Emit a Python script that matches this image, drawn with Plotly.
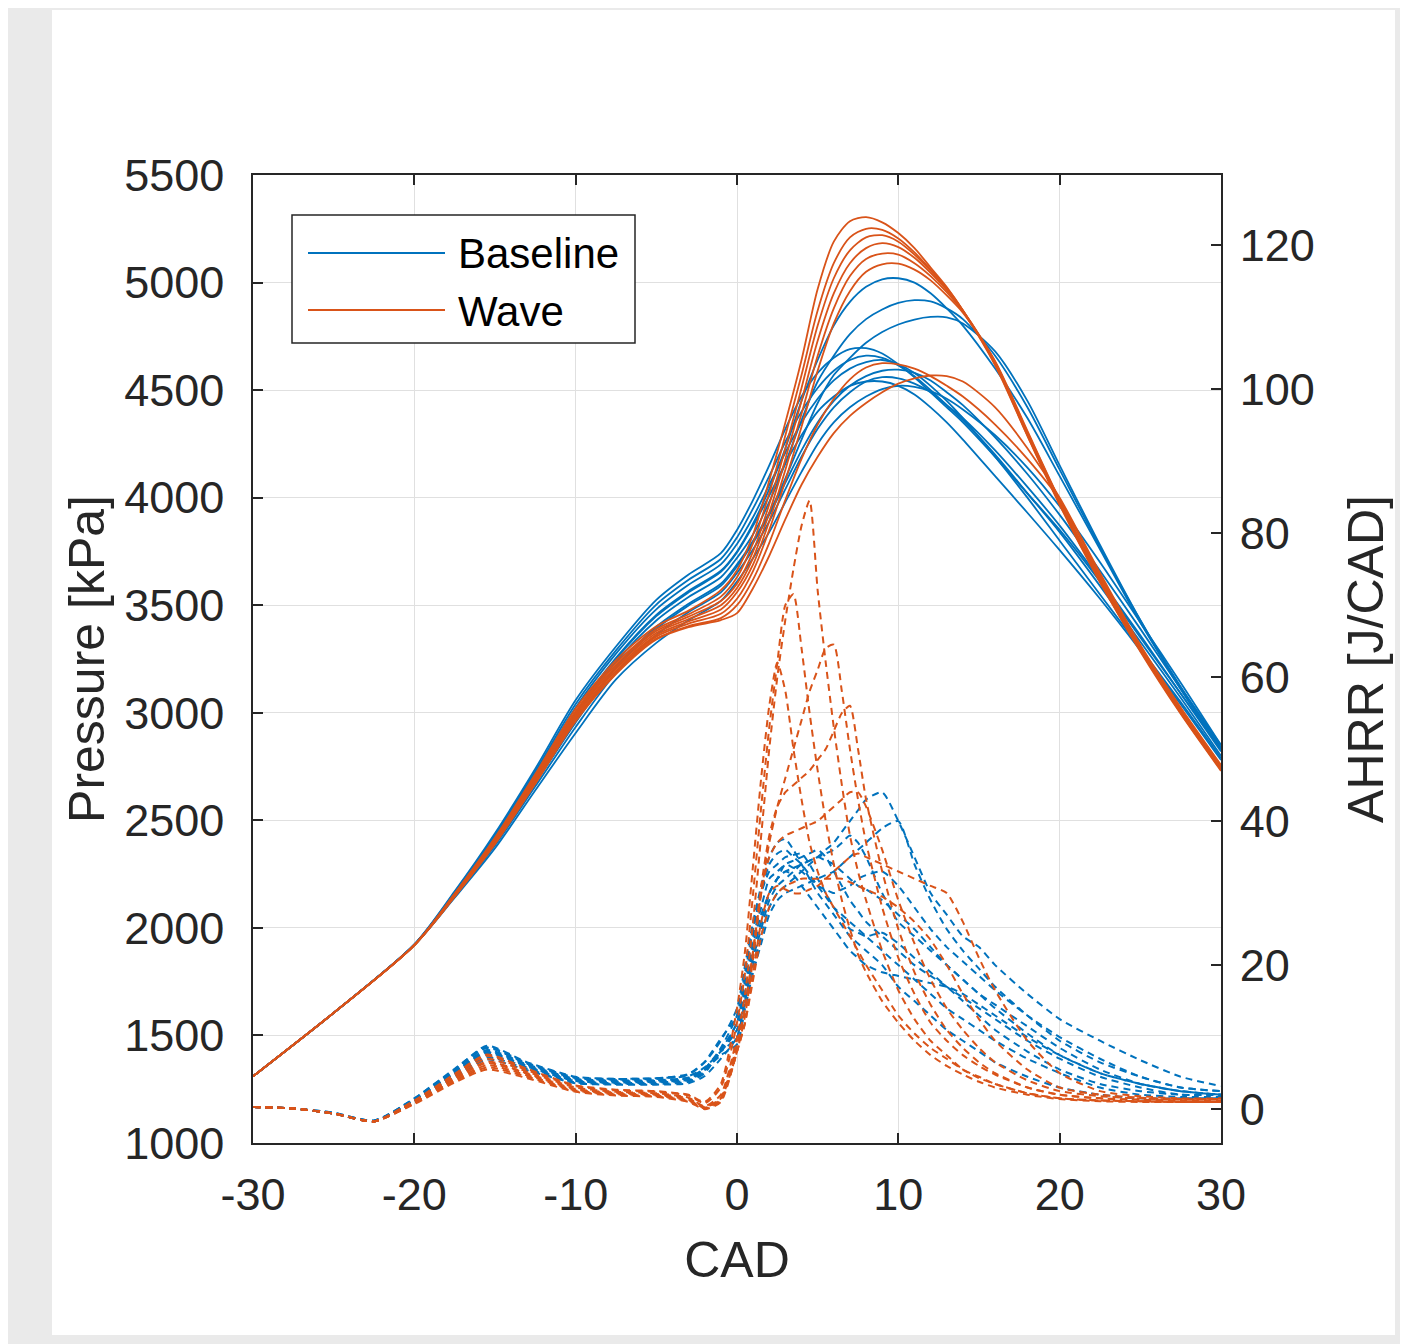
import plotly.graph_objects as go

# ---------------- data ----------------
cad_p = [-30, -25, -20, -17.5, -15, -12.5, -10, -7.5, -5, -3, -1, 0, 1, 2, 3, 4, 5, 6, 7, 8,
         9, 10, 11, 12, 13, 14, 16, 18, 20, 22.5, 25, 27.5, 30]

p_baseline_1 = [1310, 1605, 1922, 2159, 2414, 2703, 3002, 3255, 3455, 3566, 3660, 3750, 3880, 4040, 4230, 4450, 4640, 4800, 4910, 4980, 5015, 5020, 5000, 4950, 4880, 4800, 4600, 4370, 4100, 3760, 3420, 3120, 2850]
p_baseline_2 = [1310, 1605, 1921, 2155, 2405, 2690, 2983, 3236, 3429, 3538, 3630, 3720, 3830, 3980, 4160, 4360, 4540, 4660, 4760, 4830, 4875, 4905, 4918, 4912, 4880, 4830, 4660, 4420, 4130, 3770, 3430, 3120, 2840]
p_baseline_3 = [1310, 1605, 1921, 2151, 2395, 2676, 2961, 3215, 3400, 3507, 3600, 3690, 3800, 3930, 4090, 4270, 4440, 4570, 4650, 4720, 4770, 4805, 4828, 4840, 4838, 4810, 4680, 4450, 4150, 3780, 3430, 3110, 2830]
p_baseline_4 = [1310, 1605, 1923, 2170, 2440, 2740, 3059, 3308, 3525, 3643, 3742, 3850, 3990, 4150, 4320, 4470, 4580, 4650, 4690, 4695, 4670, 4620, 4560, 4490, 4420, 4350, 4190, 4020, 3850, 3610, 3350, 3090, 2830]
p_baseline_5 = [1310, 1605, 1923, 2166, 2432, 2728, 3041, 3290, 3503, 3618, 3715, 3815, 3950, 4100, 4260, 4400, 4510, 4590, 4640, 4660, 4650, 4615, 4565, 4500, 4430, 4360, 4200, 4020, 3840, 3590, 3330, 3070, 2800]
p_baseline_6 = [1310, 1605, 1922, 2163, 2424, 2717, 3024, 3275, 3481, 3595, 3690, 3785, 3910, 4060, 4210, 4350, 4460, 4545, 4600, 4630, 4640, 4620, 4580, 4520, 4450, 4370, 4190, 4000, 3800, 3550, 3300, 3050, 2790]
p_baseline_7 = [1310, 1605, 1921, 2150, 2392, 2672, 2955, 3208, 3390, 3499, 3590, 3680, 3790, 3920, 4070, 4220, 4350, 4450, 4520, 4565, 4590, 4595, 4580, 4545, 4490, 4430, 4280, 4110, 3920, 3660, 3390, 3110, 2830]
p_baseline_8 = [1310, 1605, 1922, 2158, 2410, 2698, 2995, 3249, 3449, 3560, 3655, 3745, 3870, 4010, 4160, 4290, 4400, 4470, 4520, 4540, 4540, 4520, 4480, 4420, 4350, 4270, 4100, 3930, 3756, 3530, 3290, 3040, 2780]
p_baseline_9 = [1310, 1605, 1920, 2140, 2370, 2640, 2906, 3155, 3325, 3430, 3520, 3610, 3720, 3840, 3980, 4120, 4250, 4350, 4420, 4470, 4505, 4520, 4515, 4495, 4460, 4410, 4290, 4140, 3960, 3700, 3420, 3140, 2850]
p_baseline_10 = [1310, 1605, 1920, 2145, 2383, 2658, 2934, 3185, 3362, 3469, 3560, 3650, 3760, 3890, 4040, 4190, 4320, 4420, 4490, 4540, 4560, 4555, 4530, 4490, 4430, 4370, 4220, 4050, 3870, 3620, 3360, 3090, 2820]

p_wave_1 = [1310, 1605, 1920, 2160, 2420, 2715, 3020, 3245, 3402, 3475, 3570, 3663, 3830, 4080, 4350, 4640, 4970, 5190, 5285, 5304, 5280, 5230, 5160, 5070, 4979, 4870, 4615, 4287, 3966, 3607, 3290, 3000, 2735]
p_wave_2 = [1310, 1605, 1920, 2157, 2413, 2705, 3008, 3232, 3389, 3458, 3540, 3630, 3790, 4020, 4290, 4570, 4870, 5090, 5210, 5250, 5245, 5205, 5140, 5060, 4975, 4870, 4620, 4290, 3970, 3610, 3285, 2995, 2730]
p_wave_3 = [1310, 1605, 1920, 2155, 2409, 2699, 2999, 3223, 3380, 3447, 3520, 3600, 3750, 3970, 4230, 4510, 4800, 5020, 5150, 5210, 5220, 5190, 5130, 5055, 4970, 4870, 4625, 4295, 3975, 3615, 3290, 3000, 2735]
p_wave_4 = [1310, 1605, 1920, 2152, 2405, 2692, 2991, 3213, 3371, 3436, 3500, 3580, 3720, 3930, 4180, 4450, 4730, 4950, 5090, 5160, 5183, 5165, 5115, 5045, 4965, 4870, 4630, 4300, 3980, 3620, 3295, 3005, 2740]
p_wave_5 = [1310, 1605, 1920, 2150, 2400, 2686, 2982, 3204, 3362, 3425, 3480, 3560, 3690, 3890, 4130, 4390, 4660, 4880, 5030, 5110, 5135, 5130, 5090, 5030, 4955, 4865, 4630, 4305, 3985, 3625, 3300, 3010, 2745]
p_wave_6 = [1310, 1605, 1920, 2148, 2396, 2679, 2974, 3195, 3354, 3414, 3460, 3530, 3660, 3850, 4080, 4330, 4590, 4810, 4960, 5050, 5085, 5088, 5060, 5010, 4940, 4860, 4635, 4310, 3990, 3630, 3305, 3015, 2750]
p_wave_7 = [1310, 1605, 1920, 2146, 2392, 2673, 2965, 3185, 3345, 3403, 3440, 3500, 3620, 3790, 3990, 4180, 4340, 4460, 4550, 4605, 4625, 4620, 4600, 4565, 4520, 4470, 4340, 4180, 3990, 3640, 3310, 3020, 2755]
p_wave_8 = [1310, 1605, 1920, 2145, 2390, 2670, 2961, 3180, 3341, 3398, 3431, 3463, 3580, 3730, 3900, 4060, 4190, 4300, 4380, 4440, 4490, 4530, 4555, 4568, 4565, 4540, 4420, 4230, 4000, 3650, 3315, 3025, 2757]

cad_h = [-30, -27.5, -25, -22.5, -20, -17.5, -15.5, -13, -10, -7.5, -5, -3, -2, -1,
         0, 0.5, 1, 1.5, 2, 2.5, 3, 3.5, 4, 4.5, 5, 5.5, 6, 6.5, 7, 7.5, 8,
         9, 10, 11, 12, 13, 14, 15, 16, 18, 20, 22.5, 25, 27.5, 30]

ahrr_baseline_1 = [0.3, 0.1, -0.6, -1.7, 1.5, 5.5, 8.8, 6.5, 4.5, 4.2, 4.3, 4.6, 5.8, 8.0,
                   10, 15, 20, 24, 28, 30, 31, 32, 33, 34, 35, 36, 37, 38.5, 40, 41.5, 43,
                   44, 40, 35, 30, 27, 24, 22.5, 20, 16, 12.5, 9.5, 6.8, 4.5, 3.2]
ahrr_baseline_2 = [0.3, 0.1, -0.6, -1.6, 1.3, 5.2, 8.2, 6.2, 4.2, 4.0, 4.0, 4.3, 5.5, 7.5,
                   9, 14, 19, 23, 27, 29, 30, 30.5, 31, 31.5, 32, 32.5, 33, 34, 35, 36, 37,
                   39, 40, 34, 29, 25, 22, 19.5, 17, 13, 9.5, 6.5, 4.5, 3, 2.5]
ahrr_baseline_3 = [0.3, 0.1, -0.6, -1.7, 1.2, 5.0, 7.8, 6.0, 4.0, 3.8, 3.9, 4.2, 5.6, 8.4,
                   11, 16, 22, 26, 30, 32, 33, 33.5, 34, 34.5, 35, 35.5, 36, 37, 38, 37, 35,
                   30, 26, 24, 22, 20, 18, 16, 14, 10.5, 7.5, 5, 3.5, 2.5, 2]
ahrr_baseline_4 = [0.3, 0.1, -0.5, -1.6, 1.4, 5.4, 8.5, 6.3, 4.3, 4.1, 4.2, 4.8, 6.5, 9.5,
                   14, 20, 26, 31, 35, 37, 37.5, 36, 34, 32, 30, 28.5, 27, 25.5, 24, 23, 22,
                   20, 17, 15, 13, 11, 9.5, 8, 6.5, 4.5, 3, 2, 1.5, 1.5, 1.5]
ahrr_baseline_5 = [0.3, 0.1, -0.6, -1.7, 1.1, 4.8, 7.5, 5.8, 3.9, 3.6, 3.7, 4.0, 5.2, 8.0,
                   12, 18, 24, 28, 32, 33, 34, 34.5, 35, 35.5, 36, 35, 33, 31, 29, 27.5, 26,
                   24, 22, 20, 18.5, 17, 15, 13, 11, 8, 5.5, 3.5, 2.5, 2, 2]
ahrr_baseline_6 = [0.3, 0.1, -0.6, -1.7, 1.0, 4.6, 7.2, 5.6, 3.7, 3.5, 3.5, 3.8, 5.0, 8.5,
                   13, 19, 25, 30, 33, 34, 35, 35.3, 35.5, 34, 32, 30, 28, 26.5, 25, 24.5, 24,
                   24.5, 23, 21, 19, 17, 15.5, 14, 12.5, 9.5, 7, 4.5, 3, 2, 2]
ahrr_baseline_7 = [0.3, 0.1, -0.6, -1.6, 1.2, 5.0, 7.9, 5.9, 3.9, 3.7, 3.8, 4.1, 5.4, 8.2,
                   12, 17, 23, 27, 30, 32, 33, 32.5, 31, 29.5, 28, 26.5, 25, 23.5, 22, 21, 20,
                   19, 18.5, 18, 17.5, 17, 16, 14.5, 13, 10, 7.5, 5, 3.5, 2.5, 2]
ahrr_baseline_8 = [0.3, 0.1, -0.6, -1.7, 0.9, 4.4, 6.9, 5.4, 3.6, 3.4, 3.4, 3.6, 4.6, 7.0,
                   10, 15, 21, 25, 29, 31, 32, 33, 34, 34.5, 35, 34.5, 34, 33, 32, 31, 30.5,
                   29, 27, 25, 22.5, 20, 18, 16, 14.5, 11.5, 8.5, 5.5, 3.5, 2.5, 2]
ahrr_baseline_9 = [0.3, 0.1, -0.6, -1.7, 1.3, 5.1, 8.0, 6.1, 4.1, 3.9, 4.0, 4.4, 5.7, 8.0,
                   11, 16, 22, 26, 30, 32, 34, 33.5, 33, 32, 31, 30.5, 30, 30.5, 31, 32, 32.5,
                   33, 31, 28, 25, 22.5, 20.5, 18.5, 16.5, 13, 10, 7, 4.5, 3, 2.5]
ahrr_baseline_10 = [0.3, 0.1, -0.5, -1.6, 1.5, 5.6, 8.6, 6.4, 4.4, 4.2, 4.3, 4.9, 6.6, 9.8,
                    13, 19, 25, 30, 34, 35.5, 36, 35, 34, 32.5, 31, 29.5, 28, 27, 26, 25, 24,
                    22, 20, 18, 16, 14, 12.5, 11, 9.5, 7, 5, 3, 2, 1.7, 1.7]

ahrr_wave_1 = [0.3, 0.1, -0.6, -1.7, 1.0, 4.5, 7.0, 5.2, 3.0, 2.4, 2.2, 1.6, 0.4, 2.0,
               10, 16, 26, 38, 50, 60, 68, 75, 81, 84.5, 72, 62, 53, 45, 38, 33, 29,
               22, 16.5, 12.5, 9.5, 7.5, 5.5, 4.5, 3.5, 2.2, 1.5, 1.2, 1.1, 1.0, 1.0]
ahrr_wave_2 = [0.3, 0.1, -0.6, -1.7, 1.1, 4.7, 7.4, 5.4, 3.2, 2.6, 2.4, 1.9, 0.8, 3.0,
               12, 19, 30, 42, 53, 62, 70, 71.5, 64, 55, 47, 40, 34, 29, 25, 21.5, 19,
               15, 12, 9.5, 7.5, 6, 4.8, 3.8, 3, 2, 1.4, 1.1, 1.0, 1.0, 1.0]
ahrr_wave_3 = [0.3, 0.1, -0.6, -1.7, 0.9, 4.3, 6.6, 5.0, 2.8, 2.3, 2.1, 1.5, 0.3, 1.5,
               8, 13, 21, 30, 37, 42, 46, 50, 54, 58, 61, 64, 64.5, 58, 50, 43, 37,
               28, 21, 16, 12, 9.5, 7.5, 6, 4.8, 3, 2, 1.5, 1.3, 1.2, 1.2]
ahrr_wave_4 = [0.3, 0.1, -0.6, -1.7, 0.9, 4.2, 6.4, 4.9, 2.7, 2.2, 2.0, 1.3, 0.2, 1.6,
               9, 14, 22, 31, 38, 42, 44, 45, 46, 47, 48.5, 50, 52.5, 55, 56, 50, 43,
               33, 25, 19, 14.5, 11, 8.5, 6.5, 5, 3, 2, 1.5, 1.3, 1.2, 1.2]
ahrr_wave_5 = [0.3, 0.1, -0.6, -1.7, 1.2, 4.9, 7.6, 5.6, 3.3, 2.7, 2.5, 2.0, 1.0, 3.5,
               14, 22, 34, 46, 56, 62, 58, 50, 43, 37, 33, 30, 28, 26, 24, 22, 20,
               16.5, 13, 10.5, 8.5, 7, 5.5, 4.3, 3.5, 2.2, 1.5, 1.2, 1.1, 1.0, 1.0]
ahrr_wave_6 = [0.3, 0.1, -0.6, -1.7, 0.8, 4.0, 6.1, 4.7, 2.6, 2.1, 1.9, 1.2, 0.2, 1.4,
               9, 14, 22, 30, 35, 37, 38, 38.5, 39, 39.5, 40, 41, 42, 43, 44, 44, 42,
               36, 29, 23, 18, 14, 11, 8.5, 6.5, 4, 2.5, 1.8, 1.5, 1.3, 1.3]
ahrr_wave_7 = [0.3, 0.1, -0.6, -1.7, 0.8, 3.9, 5.8, 4.5, 2.5, 2.0, 1.8, 1.1, 0.1, 1.2,
               8, 12, 19, 26, 30, 31, 30.5, 30, 30, 30.5, 31, 32, 33, 34, 35, 35.5, 35,
               34, 33, 32, 31, 30, 26, 21, 16.5, 9.5, 5, 2.5, 1.8, 1.5, 1.5]
ahrr_wave_8 = [0.3, 0.1, -0.6, -1.7, 0.7, 3.7, 5.5, 4.3, 2.4, 1.9, 1.7, 1.0, 0.0, 1.0,
               8, 12, 18, 24, 28, 30, 31, 31.5, 32, 32, 32, 32, 32, 32, 31.5, 31, 30.5,
               29.5, 28, 26, 23.5, 20, 16, 12.5, 9.5, 5.5, 3, 2, 1.6, 1.4, 1.4]

x_ticks = [-30, -20, -10, 0, 10, 20, 30]
x_tick_text = ['-30', '-20', '-10', '0', '10', '20', '30']
p_ticks = [1000, 1500, 2000, 2500, 3000, 3500, 4000, 4500, 5000, 5500]
h_ticks = [0, 20, 40, 60, 80, 100, 120]
legend_names = ['Baseline', 'Wave']

pressure_baseline = [p_baseline_1, p_baseline_2, p_baseline_3, p_baseline_4, p_baseline_5,
                     p_baseline_6, p_baseline_7, p_baseline_8, p_baseline_9, p_baseline_10]
pressure_wave = [p_wave_1, p_wave_2, p_wave_3, p_wave_4, p_wave_5, p_wave_6, p_wave_7, p_wave_8]
ahrr_baseline = [ahrr_baseline_1, ahrr_baseline_2, ahrr_baseline_3, ahrr_baseline_4, ahrr_baseline_5,
                 ahrr_baseline_6, ahrr_baseline_7, ahrr_baseline_8, ahrr_baseline_9, ahrr_baseline_10]
ahrr_wave = [ahrr_wave_1, ahrr_wave_2, ahrr_wave_3, ahrr_wave_4, ahrr_wave_5, ahrr_wave_6,
             ahrr_wave_7, ahrr_wave_8]

# ---------------- style ----------------
BLUE = '#0072BD'
ORANGE = '#D95319'
INK = '#262626'
GRID = '#e0e0e0'
FONT = 'Liberation Sans, Arial, sans-serif'
OFF = 8                      # page body margin of the html page
W, H = 1408 - OFF, 1344 - OFF
# plot area in screen pixels, converted to figure pixels
L, R, T, B = 253 - OFF, 1221 - OFF, 175 - OFF, 1143 - OFF
PW, PH = R - L, B - T


def px_x(px):
    return (px - OFF - L) / PW


def px_y(py):
    return (B - (py - OFF)) / PH


fig = go.Figure()

for p in pressure_baseline:
    fig.add_trace(go.Scatter(x=cad_p, y=p, mode='lines', yaxis='y',
                             line=dict(color=BLUE, width=1.8, shape='spline', smoothing=0.8),
                             name=legend_names[0], legendgroup='b', showlegend=False,
                             hoverinfo='skip'))
for p in pressure_wave:
    fig.add_trace(go.Scatter(x=cad_p, y=p, mode='lines', yaxis='y',
                             line=dict(color=ORANGE, width=1.8, shape='spline', smoothing=0.8),
                             name=legend_names[1], legendgroup='w', showlegend=False,
                             hoverinfo='skip'))
for h in ahrr_baseline:
    fig.add_trace(go.Scatter(x=cad_h, y=h, mode='lines', yaxis='y2',
                             line=dict(color=BLUE, width=2, dash='7px,5px',
                                       shape='spline', smoothing=0.6),
                             name=legend_names[0], legendgroup='b', showlegend=False,
                             hoverinfo='skip'))
for h in ahrr_wave:
    fig.add_trace(go.Scatter(x=cad_h, y=h, mode='lines', yaxis='y2',
                             line=dict(color=ORANGE, width=2, dash='7px,5px',
                                       shape='spline', smoothing=0.6),
                             name=legend_names[1], legendgroup='w', showlegend=False,
                             hoverinfo='skip'))

axis_common = dict(
    showline=True, linecolor=INK, linewidth=1.5,
    ticks='inside', ticklen=10, tickwidth=1.5, tickcolor=INK,
    tickfont=dict(family=FONT, size=45, color=INK),
    zeroline=False,
)

shapes = [
    # white page panel over a light gray surround
    dict(type='rect', xref='paper', yref='paper', layer='below',
         x0=px_x(52), x1=px_x(1395), y0=px_y(1335), y1=px_y(10),
         fillcolor='white', line=dict(width=0)),
    # legend box
    dict(type='rect', xref='paper', yref='paper', layer='above',
         x0=px_x(292), x1=px_x(635), y0=px_y(343), y1=px_y(215),
         fillcolor='white', line=dict(color=INK, width=1.5)),
    dict(type='line', xref='paper', yref='paper', layer='above',
         x0=px_x(308), x1=px_x(445), y0=px_y(253), y1=px_y(253),
         line=dict(color=BLUE, width=2)),
    dict(type='line', xref='paper', yref='paper', layer='above',
         x0=px_x(308), x1=px_x(445), y0=px_y(310), y1=px_y(310),
         line=dict(color=ORANGE, width=2)),
]

annotations = [
    dict(xref='paper', yref='paper', x=px_x(456), y=px_y(254), xanchor='left', yanchor='middle',
         text=legend_names[0], showarrow=False, font=dict(family=FONT, size=42, color='#000000')),
    dict(xref='paper', yref='paper', x=px_x(456), y=px_y(311), xanchor='left', yanchor='middle',
         text=legend_names[1], showarrow=False, font=dict(family=FONT, size=42, color='#000000')),
]

fig.update_layout(
    width=W, height=H, autosize=False,
    margin=dict(l=L, r=W - R, t=T, b=H - B, pad=0),
    paper_bgcolor='#eaeaea', plot_bgcolor='white',
    showlegend=False,
    font=dict(family=FONT, color=INK),
    xaxis=dict(range=[-30, 30], tickvals=x_ticks, ticktext=x_tick_text,
               showgrid=True, gridcolor=GRID, gridwidth=1, mirror='ticks',
               ticklabelstandoff=11,
               title=dict(text='CAD', font=dict(family=FONT, size=50, color=INK), standoff=23),
               **axis_common),
    yaxis=dict(range=[1000, 5500], tickvals=p_ticks,
               showgrid=True, gridcolor=GRID, gridwidth=1,
               ticklabelstandoff=18,
               title=dict(text='Pressure [kPa]', font=dict(family=FONT, size=50, color=INK), standoff=4),
               **axis_common),
    yaxis2=dict(range=[-4.7, 129.7], tickvals=h_ticks, overlaying='y', side='right',
                showgrid=False, ticklabelstandoff=8,
                title=dict(text='AHRR [J/CAD]', font=dict(family=FONT, size=50, color=INK), standoff=34),
                **axis_common),
    shapes=shapes,
    annotations=annotations,
)

fig.write_html('out.html')
